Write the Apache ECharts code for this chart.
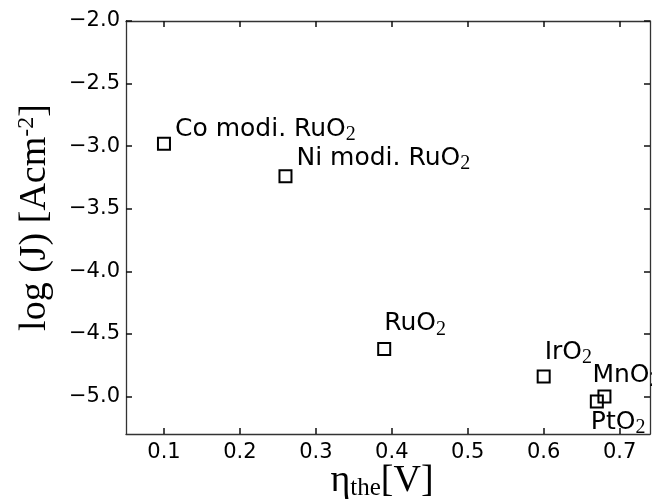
<!DOCTYPE html>
<html>
<head>
<meta charset="utf-8">
<script src="https://cdn.jsdelivr.net/npm/echarts@6/dist/echarts.min.js"></script>
<style>html,body{margin:0;padding:0;background:#fff}#c{width:652px;height:502px}</style>
</head>
<body>
<div id="c"></div>
<script>
// ---- data ----
const names = ['Co modi. RuO', 'Ni modi. RuO', 'RuO', 'IrO', 'MnO', 'PtO'];
const subs = ['2', '2', '2', '2', '2', '2'];
const eta = [0.10, 0.26, 0.39, 0.60, 0.68, 0.67];
const logJ = [-2.98, -3.24, -4.62, -4.84, -5.00, -5.04];
const xTicks = [0.1, 0.2, 0.3, 0.4, 0.5, 0.6, 0.7];
const yTicks = [-5.0, -4.5, -4.0, -3.5, -3.0, -2.5, -2.0];
// label offsets (layout only): [dx from marker centre to text left, dy from marker centre to text middle]
const labelOffsets = [[12, -13], [12, -17], [1, -24], [2, -23], [-11, -20], [-5, 22]];

const chart = echarts.init(document.getElementById('c'), null, {renderer: 'canvas'});
const fmt = v => v.toFixed(1).replace('-', '\u2212');
const half = 6;
const seriesData = eta.map((x, i) => ({
  value: [x, logJ[i]],
  label: {
    show: true,
    formatter: '{a|' + names[i] + '}{s|' + subs[i] + '}',
    position: [half + labelOffsets[i][0], half + labelOffsets[i][1]],
    align: 'left',
    verticalAlign: 'middle'
  }
}));
const axisLineStyle = {color: '#333', width: 1.3};
const tickStyle = {show: true, inside: true, length: 6, lineStyle: {color: '#111', width: 1.5}};

chart.setOption({
  animation: false,
  backgroundColor: '#fff',
  grid: {left: 126, top: 21, right: 2, bottom: 68, containLabel: false, outerBoundsMode: 'none'},
  xAxis: [{
    type: 'value', min: 0.05, max: 0.74, position: 'bottom',
    name: '{e|\u03b7}{t|the}{v|[V]}', nameLocation: 'middle', nameGap: 26, nameMoveOverlap: false,
    nameTextStyle: {padding: [0, 12, 0, 0], rich: {
      e: {fontFamily: 'Liberation Serif', fontSize: 38, color: '#000', lineHeight: 42},
      t: {fontFamily: 'Liberation Serif', fontSize: 25, color: '#000', lineHeight: 42, padding: [15, 0, 0, 0]},
      v: {fontFamily: 'Liberation Serif', fontSize: 38, color: '#000', lineHeight: 42}
    }},
    axisLine: {show: true, onZero: false, lineStyle: axisLineStyle},
    axisTick: Object.assign({customValues: xTicks}, tickStyle),
    axisLabel: {customValues: xTicks, formatter: fmt, fontFamily: 'DejaVu Sans', fontSize: 21, color: '#000', margin: 8},
    splitLine: {show: false}
  }, {
    type: 'value', min: 0.05, max: 0.74, position: 'top',
    axisLine: {show: true, onZero: false, lineStyle: axisLineStyle},
    axisTick: Object.assign({customValues: xTicks}, tickStyle),
    axisLabel: {show: false},
    splitLine: {show: false}
  }],
  yAxis: [{
    type: 'value', min: -5.3, max: -2.0, position: 'left',
    name: '{a|log (J) [Acm}{p|-2}{a|]}', nameLocation: 'middle', nameGap: 70, nameRotate: 90, nameMoveOverlap: false,
    nameTextStyle: {padding: [0, 0, 0, 20], rich: {
      a: {fontFamily: 'Liberation Serif', fontSize: 38, color: '#000', lineHeight: 42},
      p: {fontFamily: 'Liberation Serif', fontSize: 24, color: '#000', lineHeight: 42, padding: [0, 0, 16, 0]}
    }},
    axisLine: {show: true, onZero: false, lineStyle: axisLineStyle},
    axisTick: Object.assign({customValues: yTicks}, tickStyle),
    axisLabel: {customValues: yTicks, formatter: fmt, fontFamily: 'DejaVu Sans', fontSize: 21, color: '#000', margin: 6},
    splitLine: {show: false}
  }, {
    type: 'value', min: -5.3, max: -2.0, position: 'right',
    axisLine: {show: true, onZero: false, lineStyle: axisLineStyle},
    axisTick: Object.assign({customValues: yTicks}, tickStyle),
    axisLabel: {show: false},
    splitLine: {show: false}
  }],
  series: [{
    type: 'scatter',
    xAxisIndex: 0, yAxisIndex: 0,
    symbol: 'rect', symbolSize: 12,
    itemStyle: {color: 'rgba(0,0,0,0)', borderColor: '#000', borderWidth: 2, opacity: 1},
    label: {
      color: '#000',
      opacity: 1,
      rich: {
        a: {fontFamily: 'DejaVu Sans', fontSize: 25, color: '#000', lineHeight: 28},
        s: {fontFamily: 'Liberation Serif', fontSize: 20, color: '#000', lineHeight: 28, padding: [11, 0, 0, 0]}
      }
    },
    data: seriesData
  }]
});
</script>
</body>
</html>
